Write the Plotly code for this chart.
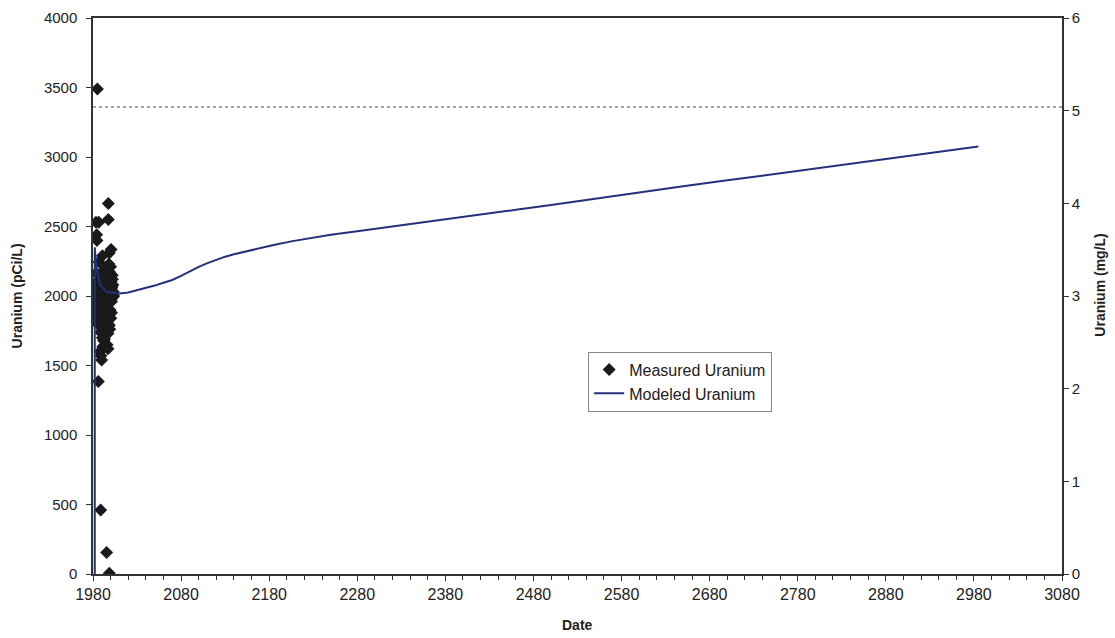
import plotly.graph_objects as go

# Measured uranium (pCi/L)
meas_year = [1985.0, 1997.4, 1997.4, 1983.4, 1986.5, 1984.2, 1984.5, 2000.5, 1998.5, 1990.8,
             1986.8, 1983.4, 1995.5, 1991.0, 1989.8, 1986.0, 1988.7, 1995.5, 1998.5,
             1982.5, 1983.0, 1983.2, 1983.8, 1984.0, 1984.5, 1985.0, 1985.3, 1985.8, 1986.2,
             1986.6, 1987.0, 1987.4, 1987.8, 1988.2, 1988.6, 1989.0, 1989.5, 1989.9, 1990.3,
             1990.6, 1991.0, 1991.4, 1991.8, 1992.2, 1992.6, 1993.0, 1993.4, 1993.8, 1994.2,
             1994.6, 1995.0, 1995.4, 1995.8, 1996.2, 1996.6, 1997.0, 1997.4, 1997.8, 1998.2,
             1998.6, 1999.0, 1999.4, 1999.8, 2000.2, 2000.6, 2001.0, 2001.4, 2001.8, 2002.2,
             2002.6, 2003.0, 2000.0, 1998.0, 1994.0, 1992.0, 1996.0, 1988.0, 1989.0, 1997.0,
             1981.0, 1981.2, 1981.5, 2002.0, 2003.5, 2001.0, 1999.0]
meas_val = [3490, 2665, 2550, 2530, 2530, 2440, 2400, 2335, 2310, 2290,
            2245, 2165, 2175, 1635, 1540, 1385, 460, 155, 5,
            2080, 1950, 1880, 2030, 1900, 1820, 2110, 1960, 1870, 2050,
            1790, 1930, 2150, 1860, 2010, 1740, 1900, 2080, 1820, 1960,
            1700, 2120, 1880, 1780, 2040, 1930, 1690, 2180, 1850, 1990,
            1760, 2090, 1910, 1810, 2140, 1980, 1730, 1870, 2060, 1950,
            1790, 2170, 1900, 2020, 1840, 2100, 1960, 2060, 2150, 1990,
            2080, 2030, 2210, 2230, 2200, 1680, 1650, 1600, 1570, 1620,
            1900, 2010, 1830, 2120, 2000, 1880, 1760]

# Modeled uranium (pCi/L)
mod_year = [1982, 1982, 1984, 1988, 1995, 2005, 2010, 2020, 2030, 2040, 2050, 2060, 2070,
            2080, 2090, 2100, 2110, 2120, 2130, 2140, 2150, 2165, 2185, 2205, 2225, 2250,
            2280, 2310, 2340, 2380, 2420, 2460, 2500, 2560, 2600, 2650, 2700, 2750, 2800,
            2850, 2900, 2950, 2985]
mod_val = [0, 2350, 2200, 2080, 2030, 2020, 2018, 2025, 2040, 2058, 2075, 2095, 2115,
           2145, 2178, 2210, 2237, 2262, 2283, 2300, 2315, 2340, 2367, 2393, 2415, 2440,
           2465, 2490, 2515, 2550, 2585, 2620, 2655, 2710, 2745, 2790, 2832, 2875, 2918,
           2960, 3003, 3045, 3075]

# Reference level (mg/L)
ref_x = [1980, 3080]
ref_mgL = [5.04, 5.04]

x_ticks = list(range(1980, 3081, 100))
y_ticks = list(range(0, 4001, 500))
y2_ticks = list(range(0, 7))

FONT = "Liberation Sans, Arial, sans-serif"
AX = "#333333"
TXT = "#222222"

fig = go.Figure()
fig.add_trace(go.Scatter(x=ref_x, y=ref_mgL, mode="lines", yaxis="y2",
                         line=dict(color="#888888", width=1.5, dash="dot"),
                         showlegend=False, hoverinfo="skip"))
fig.add_trace(go.Scatter(x=meas_year, y=meas_val, mode="markers", name="Measured Uranium",
                         marker=dict(symbol="diamond", size=10, color="#1a1a1a")))
fig.add_trace(go.Scatter(x=mod_year, y=mod_val, mode="lines", name="Modeled Uranium",
                         line=dict(color="#23307a", width=2)))

fig.update_layout(
    width=1115, height=638,
    margin=dict(l=93, r=53, t=18, b=64, autoexpand=False),
    paper_bgcolor="white", plot_bgcolor="white",
    font=dict(family=FONT, color=TXT),
    xaxis=dict(range=[1980, 3080], tickvals=x_ticks, showgrid=False, zeroline=False,
               showline=True, linecolor=AX, linewidth=1.5, mirror=True, automargin=False,
               ticks="outside", ticklen=5, tickcolor=AX, tickfont=dict(size=16),
               minor=dict(dtick=20, ticks="outside", ticklen=4, tickcolor=AX)),
    yaxis=dict(range=[0, 4000], tickvals=y_ticks, showgrid=False, zeroline=False,
               showline=True, linecolor=AX, linewidth=1.5, automargin=False,
               ticks="outside", ticklen=5, tickcolor=AX, tickfont=dict(size=15),
               ticklabelstandoff=6),
    yaxis2=dict(range=[0, 6], tickvals=y2_ticks, overlaying="y", side="right",
                showgrid=False, zeroline=False, showline=True, linecolor=AX, linewidth=1.5,
                automargin=False,
                ticks="outside", ticklen=5, tickcolor=AX, tickfont=dict(size=15)),
    legend=dict(x=0.511, y=0.40, xanchor="left", yanchor="top",
                bordercolor="#888888", borderwidth=1, bgcolor="white",
                font=dict(size=16, color=TXT), tracegroupgap=0,
                itemwidth=30),
    annotations=[
        dict(text="<b>Date</b>", xref="paper", yref="paper", x=0.5, y=-0.092,
             xanchor="center", yanchor="middle", showarrow=False, font=dict(size=14)),
        dict(text="<b>Uranium (pCi/L)</b>", xref="paper", yref="paper", x=-0.078, y=0.5,
             xanchor="center", yanchor="middle", textangle=-90, showarrow=False,
             font=dict(size=14)),
        dict(text="<b>Uranium (mg/L)</b>", xref="paper", yref="paper", x=1.039, y=0.52,
             xanchor="center", yanchor="middle", textangle=-90, showarrow=False,
             font=dict(size=14)),
    ],
)

fig.write_html("out.html")
